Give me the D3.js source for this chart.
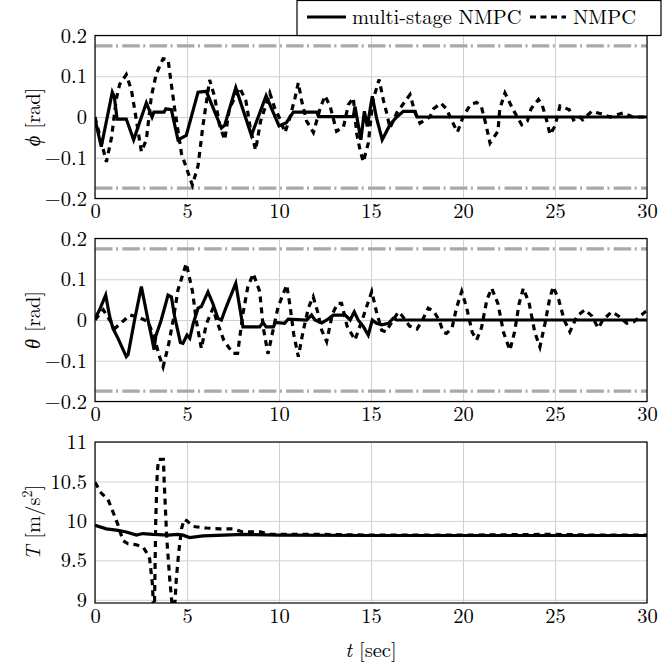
<!DOCTYPE html>
<html>
<head>
<meta charset="utf-8">
<script src="https://d3js.org/d3.v7.min.js"></script>
</head>
<body style="margin:0;background:#fff">
<div id="chart"></div>
<script>
// time axis
var xTicks = [0, 5, 10, 15, 20, 25, 30]
var xTickLabels = ["0", "5", "10", "15", "20", "25", "30"]

// angle panels
var angTicks = [-0.2, -0.1, 0, 0.1, 0.2]
var angTickLabels = ["\u22120.2", "\u22120.1", "0", "0.1", "0.2"]
var angLimits = [-0.1745, 0.1745]

// thrust panel
var thrTicks = [9, 9.5, 10, 10.5, 11]
var thrTickLabels = ["9", "9.5", "10", "10.5", "11"]

// phi, multi-stage NMPC
var tPhiMs = [0, 0.34, 0.94, 1.05, 1.2, 1.7, 2.1, 2.79, 3.1, 3.2, 3.75, 3.85, 4.15, 4.51, 4.96, 5.6, 6.05, 6.87, 7.05, 7.65, 8.5, 9.3, 10.0, 10.4, 10.78, 12.05, 12.15, 14.04, 14.13, 14.45, 14.64, 14.8, 15.07, 15.3, 15.61, 16.03, 16.4, 16.76, 17.4, 17.5, 30]
var phiMs = [-0.005, -0.073, 0.061, 0.05, -0.005, -0.005, -0.056, 0.035, 0.0, 0.012, 0.012, 0.02, 0.018, -0.056, -0.045, 0.061, 0.063, -0.027, -0.02, 0.072, -0.045, 0.052, -0.022, -0.014, 0.012, 0.012, 0.001, 0.001, 0.026, -0.056, 0.014, -0.023, 0.051, -0.002, -0.056, -0.019, 0.0, 0.014, 0.014, 0.0, 0.0]

// phi, NMPC
var tPhiNm = [0, 0.62, 0.9, 1.16, 1.34, 1.7, 1.98, 2.15, 2.52, 2.79, 3.06, 3.33, 3.7, 3.97, 4.15, 4.33, 4.7, 5.29, 5.6, 5.87, 6.23, 6.5, 6.77, 7.05, 7.3, 7.86, 8.2, 8.45, 8.73, 9.0, 9.3, 9.5, 9.78, 10.0, 10.33, 10.6, 10.87, 11.05, 11.23, 11.5, 11.87, 12.23, 12.5, 12.78, 13.13, 13.5, 13.77, 14.04, 14.22, 14.4, 14.58, 14.85, 15.1, 15.44, 15.67, 15.85, 16.03, 16.4, 17.12, 17.4, 17.66, 18.2, 18.4, 18.8, 19.1, 19.4, 19.7, 20.0, 20.4, 20.74, 21.0, 21.2, 21.47, 21.9, 22.0, 22.28, 22.7, 23.19, 23.5, 23.7, 24.1, 24.3, 24.5, 24.73, 25.0, 25.27, 25.78, 26.0, 26.3, 26.5, 27.0, 27.5, 28.0, 28.7, 29.25, 30]
var phiNm = [0.0, -0.11, -0.05, 0.045, 0.08, 0.104, 0.066, 0.02, -0.085, -0.056, 0.05, 0.106, 0.143, 0.141, 0.08, 0.02, -0.09, -0.167, -0.12, -0.02, 0.091, 0.05, -0.02, -0.056, 0.02, 0.072, 0.04, -0.03, -0.081, -0.01, 0.03, 0.059, 0.02, 0.0, -0.038, 0.0, 0.047, 0.084, 0.04, -0.01, -0.038, 0.02, 0.052, 0.026, -0.035, -0.025, 0.03, 0.047, -0.04, -0.08, -0.11, -0.065, 0.04, 0.092, 0.042, 0.01, -0.027, 0.01, 0.055, 0.01, -0.015, 0.0, 0.02, 0.034, 0.02, -0.01, -0.037, 0.0, 0.03, 0.036, 0.025, -0.01, -0.064, -0.035, 0.02, 0.059, 0.02, -0.019, -0.01, 0.02, 0.043, 0.03, 0.0, -0.043, -0.022, 0.027, 0.018, -0.007, 0.002, -0.007, 0.014, 0.008, 0.0, 0.01, 0.0, 0.0]

// theta, multi-stage NMPC
var tThMs = [0, 0.25, 0.58, 0.8, 0.98, 1.25, 1.7, 1.8, 2.15, 2.52, 2.88, 3.11, 3.21, 3.3, 3.6, 3.97, 4.15, 4.33, 4.64, 4.78, 5.0, 5.15, 5.33, 5.6, 5.78, 6.14, 6.41, 6.68, 6.87, 7.14, 7.65, 7.86, 8.04, 8.95, 9.13, 9.3, 9.7, 9.8, 10.3, 10.5, 11.5, 11.77, 11.95, 12.32, 12.6, 12.95, 13.6, 13.87, 14.09, 14.3, 14.58, 14.85, 15.07, 15.3, 15.58, 15.95, 16.2, 16.4, 30]
var thMs = [0.004, 0.025, 0.061, 0.008, -0.021, -0.045, -0.09, -0.085, 0.0, 0.082, 0.0, -0.049, -0.073, -0.04, 0.0, 0.061, 0.057, 0.008, -0.055, -0.057, -0.037, -0.045, -0.01, 0.029, 0.033, 0.069, 0.04, 0.004, 0.0, 0.033, 0.09, 0.033, -0.017, -0.017, -0.006, -0.017, -0.017, -0.006, -0.008, 0.002, 0.0, 0.012, 0.0, -0.007, 0.0, 0.012, 0.012, 0.0, 0.02, 0.0, -0.016, -0.037, 0.0, -0.008, -0.012, -0.008, 0.004, 0.0, 0.0]

// theta, NMPC
var tThNm = [0, 0.45, 0.8, 1.1, 1.52, 1.9, 2.3, 2.88, 3.2, 3.51, 3.7, 4.0, 4.25, 4.51, 4.96, 5.3, 5.5, 5.78, 6.05, 6.41, 6.6, 7.0, 7.5, 7.75, 8.04, 8.3, 8.6, 8.95, 9.15, 9.4, 9.7, 9.95, 10.42, 10.6, 10.8, 11.05, 11.3, 11.6, 11.86, 12.1, 12.32, 12.59, 12.9, 13.2, 13.4, 13.7, 14.13, 14.58, 15.04, 15.3, 15.58, 15.8, 16.2, 16.49, 16.7, 17.1, 17.5, 17.8, 18.11, 18.4, 18.7, 18.93, 19.1, 19.4, 19.65, 19.93, 20.2, 20.5, 20.74, 21.0, 21.3, 21.56, 21.9, 22.2, 22.55, 22.8, 23.05, 23.28, 23.6, 23.9, 24.18, 24.45, 24.7, 24.9, 25.2, 25.5, 25.81, 26.2, 26.63, 27.0, 27.35, 27.6, 28.08, 28.45, 28.9, 29.3, 29.9, 30]
var thNm = [0.0, 0.025, 0.0, -0.02, -0.003, 0.012, 0.008, -0.004, -0.04, -0.09, -0.115, -0.06, 0.0, 0.074, 0.139, 0.07, 0.0, -0.07, -0.01, 0.029, 0.0, -0.05, -0.082, -0.082, 0.015, 0.08, 0.114, 0.07, -0.02, -0.083, -0.02, 0.032, 0.086, 0.035, -0.035, -0.09, -0.03, 0.03, 0.057, 0.02, -0.025, -0.053, 0.015, 0.041, 0.041, -0.015, -0.049, 0.008, 0.07, 0.02, -0.025, -0.029, 0.0, 0.02, 0.01, -0.015, -0.022, 0.0, 0.029, 0.022, 0.0, -0.03, -0.033, -0.02, 0.03, 0.07, 0.03, -0.03, -0.049, -0.02, 0.05, 0.078, 0.04, -0.03, -0.074, -0.03, 0.04, 0.078, 0.04, -0.03, -0.066, -0.01, 0.05, 0.082, 0.05, 0.0, -0.029, 0.01, 0.025, 0.01, -0.02, 0.0, 0.02, 0.01, -0.008, -0.004, 0.02, 0.022]

// thrust, multi-stage NMPC
var tThrMs = [0, 0.62, 1.25, 1.7, 2.25, 2.6, 3.15, 3.97, 4.5, 4.78, 5.14, 5.87, 7.0, 8.04, 10, 15, 30]
var thrMs = [9.945, 9.9, 9.88, 9.86, 9.82, 9.84, 9.83, 9.82, 9.83, 9.82, 9.79, 9.81, 9.82, 9.83, 9.82, 9.815, 9.815]

// thrust, NMPC
var tThrNm = [0, 0.35, 0.71, 1.0, 1.25, 1.52, 1.8, 2.2, 2.61, 2.8, 2.97, 3.12, 3.22, 3.3, 3.38, 3.45, 3.72, 3.76, 3.9, 4.06, 4.28, 4.42, 4.55, 4.7, 4.85, 5.0, 5.33, 6.05, 6.77, 7.5, 8.04, 9.0, 9.5, 12, 15, 20, 25, 27, 30]
var thrNm = [10.49, 10.35, 10.27, 10.1, 9.95, 9.75, 9.71, 9.7, 9.67, 9.6, 9.52, 9.2, 8.7, 10.0, 10.6, 10.78, 10.78, 10.5, 9.78, 9.27, 8.7, 9.27, 9.6, 9.9, 10.02, 10.0, 9.93, 9.91, 9.9, 9.9, 9.86, 9.86, 9.83, 9.83, 9.82, 9.82, 9.83, 9.82, 9.82]

var W = 665, H = 669
var left = 95, right = 647
var font = "'Latin Modern Roman', 'Liberation Serif'"
var fs = 20.5

var svg = d3.select("#chart").append("svg")
	.attr("width", W)
	.attr("height", H)

var x = d3.scaleLinear().domain([0, 30]).range([left, right])

var panels = [
	{ top: 35.5, bottom: 198.5, domain: [-0.2, 0.2], ticks: angTicks, labels: angTickLabels, sym: "\u03D5", unit: " [rad]", ms: [tPhiMs, phiMs], nm: [tPhiNm, phiNm], limits: angLimits },
	{ top: 238.5, bottom: 401.5, domain: [-0.2, 0.2], ticks: angTicks, labels: angTickLabels, sym: "\u03B8", unit: " [rad]", ms: [tThMs, thMs], nm: [tThNm, thNm], limits: angLimits },
	{ top: 442, bottom: 603, domain: [8.96, 11], ticks: thrTicks, labels: thrTickLabels, sym: "T", unit: null, ms: [tThrMs, thrMs], nm: [tThrNm, thrNm], limits: [] }
]

panels.forEach(function (p, k) {
	var y = d3.scaleLinear().domain(p.domain).range([p.bottom, p.top])
	var g = svg.append("g")

	// grid
	g.append("g")
		.attr("transform", "translate(0," + p.bottom + ")")
		.call(d3.axisBottom(x).tickValues(xTicks).tickSize(-(p.bottom - p.top)).tickFormat(""))
		.call(function (a) { a.select(".domain").remove() })
		.selectAll("line").attr("stroke", "#d0d0d0").attr("stroke-width", 1)
	g.append("g")
		.attr("transform", "translate(" + left + ",0)")
		.call(d3.axisLeft(y).tickValues(p.ticks).tickSize(-(right - left)).tickFormat(""))
		.call(function (a) { a.select(".domain").remove() })
		.selectAll("line").attr("stroke", "#d0d0d0").attr("stroke-width", 1)

	var clipId = "clip" + k
	svg.append("clipPath").attr("id", clipId)
		.append("rect")
		.attr("x", left).attr("y", p.top)
		.attr("width", right - left).attr("height", p.bottom - p.top)

	var plot = g.append("g").attr("clip-path", "url(#" + clipId + ")")

	// constraint lines
	p.limits.forEach(function (v) {
		plot.append("line")
			.attr("x1", left).attr("x2", right)
			.attr("y1", y(v)).attr("y2", y(v))
			.attr("stroke", "#a9a9a9")
			.attr("stroke-width", 3.2)
			.attr("stroke-dasharray", "17.5 3.5 2 4.3")
	})

	var line = d3.line()
		.x(function (d) { return x(d[0]) })
		.y(function (d) { return y(d[1]) })

	var nmData = d3.zip(p.nm[0], p.nm[1])
	var msData = d3.zip(p.ms[0], p.ms[1])

	plot.append("path")
		.datum(nmData)
		.attr("fill", "none")
		.attr("stroke", "#000")
		.attr("stroke-width", 3.2)
		.attr("stroke-dasharray", "6 5")
		.attr("d", line)

	plot.append("path")
		.datum(msData)
		.attr("fill", "none")
		.attr("stroke", "#000")
		.attr("stroke-width", 3.2)
		.attr("d", line)

	// frame
	g.append("rect")
		.attr("x", left).attr("y", p.top)
		.attr("width", right - left).attr("height", p.bottom - p.top)
		.attr("fill", "none").attr("stroke", "#000").attr("stroke-width", 1.2)

	// tick labels
	var yAx = g.append("g")
		.attr("transform", "translate(" + left + ",0)")
		.call(d3.axisLeft(y).tickValues(p.ticks).tickSize(0).tickPadding(8)
			.tickFormat(function (d, i) { return p.labels[i] }))
	yAx.select(".domain").remove()
	yAx.selectAll("text").style("font-family", font).style("font-size", fs + "px")

	var xAx = g.append("g")
		.attr("transform", "translate(0," + p.bottom + ")")
		.call(d3.axisBottom(x).tickValues(xTicks).tickSize(0).tickPadding(5)
			.tickFormat(function (d, i) { return xTickLabels[i] }))
	xAx.select(".domain").remove()
	xAx.selectAll("text").style("font-family", font).style("font-size", fs + "px")

	// y label
	var lab = g.append("text")
		.attr("transform", "translate(40," + (p.top + p.bottom) / 2 + ") rotate(-90)")
		.attr("text-anchor", "middle")
		.style("font-family", font)
		.style("font-size", fs + "px")
	lab.append("tspan").style("font-style", "italic").text(p.sym)
	if (p.unit) {
		lab.append("tspan").text(p.unit)
	} else {
		lab.append("tspan").text(" [m/s")
		lab.append("tspan").style("font-size", "14px").attr("dy", -8).text("2")
		lab.append("tspan").attr("dy", 8).text("]")
	}
})

// x label
var xl = svg.append("text")
	.attr("x", (left + right) / 2)
	.attr("y", 657)
	.attr("text-anchor", "middle")
	.style("font-family", font)
	.style("font-size", fs + "px")
xl.append("tspan").style("font-style", "italic").text("t")
xl.append("tspan").text(" [sec]")

// legend
var leg = svg.append("g")
leg.append("rect")
	.attr("x", 297).attr("y", 0.5)
	.attr("width", 364).attr("height", 35)
	.attr("fill", "#fff").attr("stroke", "#000").attr("stroke-width", 1.2)
leg.append("line")
	.attr("x1", 307).attr("x2", 346).attr("y1", 17).attr("y2", 17)
	.attr("stroke", "#000").attr("stroke-width", 3.2)
leg.append("text")
	.attr("x", 352).attr("y", 24)
	.style("font-family", font)
	.style("font-size", fs + "px")
	.text("multi-stage NMPC")
leg.append("line")
	.attr("x1", 530).attr("x2", 566).attr("y1", 17).attr("y2", 17)
	.attr("stroke", "#000").attr("stroke-width", 3.2)
	.attr("stroke-dasharray", "6 4.5")
leg.append("text")
	.attr("x", 573).attr("y", 24)
	.style("font-family", font)
	.style("font-size", fs + "px")
	.text("NMPC")
</script>
</body>
</html>
